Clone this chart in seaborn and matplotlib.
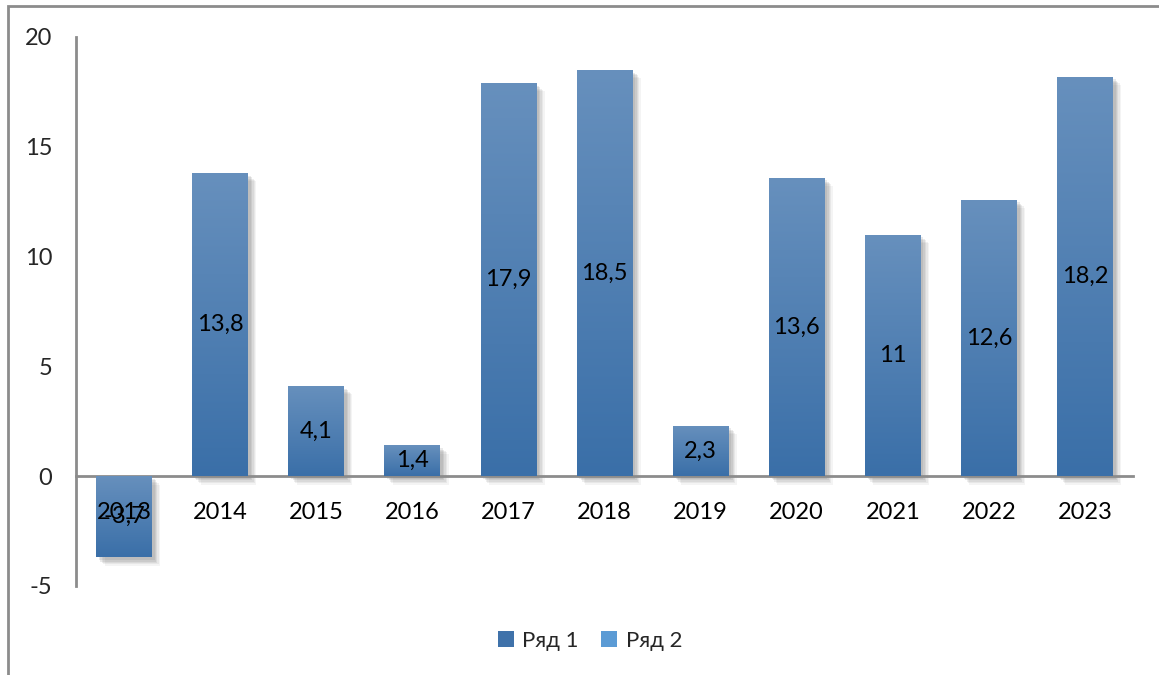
import numpy as np
import pandas as pd
import matplotlib
matplotlib.use("Agg")
import matplotlib.pyplot as plt
import matplotlib.patheffects as pe
from matplotlib.colors import LinearSegmentedColormap
from matplotlib.patches import Rectangle, Patch
import seaborn as sns

years = ["2013", "2014", "2015", "2016", "2017", "2018", "2019", "2020", "2021", "2022", "2023"]
values = [-3.7, 13.8, 4.1, 1.4, 17.9, 18.5, 2.3, 13.6, 11, 12.6, 18.2]
labels = ["-3,7", "13,8", "4,1", "1,4", "17,9", "18,5", "2,3", "13,6", "11", "12,6", "18,2"]
series_names = ["Ряд 1", "Ряд 2"]
yticks = [-5, 0, 5, 10, 15, 20]

sns.set_theme(style="white")
plt.rcParams["font.family"] = ["Lato", "DejaVu Sans"]

fig = plt.figure(figsize=(11.59, 6.75), dpi=100)
ax = fig.add_axes([76 / 1159, 1 - 586 / 675, (1133 - 76) / 1159, (586 - 37) / 675])

df = pd.DataFrame({"year": years, "value": values})
sns.barplot(data=df, x="year", y="value", ax=ax, color="#3A70A8", width=0.58,
            saturation=1)

cmap = LinearSegmentedColormap.from_list("g", ["#3A6FA8", "#6790BD"])
grad = np.linspace(0, 1, 256).reshape(-1, 1)
shadow = [pe.SimplePatchShadow(offset=(o, -o), shadow_rgbFace="#777777", alpha=a)
          for o, a in [(6, 0.08), (5, 0.1), (4, 0.12), (3, 0.15), (2, 0.15)]]
for p in ax.patches:
    x0, y0 = p.get_x(), p.get_y()
    w, h = p.get_width(), p.get_height()
    ylo, yhi = min(y0, y0 + h), max(y0, y0 + h)
    p.set_edgecolor("none")
    p.set_path_effects(shadow + [pe.Normal()])
    im = ax.imshow(grad, extent=[x0, x0 + w, ylo, yhi], origin="lower", cmap=cmap,
                   aspect="auto", zorder=3, interpolation="bilinear")
    im.set_clip_path(p)

for i, (v, lab) in enumerate(zip(values, labels)):
    ax.text(i, v / 2, lab, ha="center", va="center", fontsize=17, color="black", zorder=5)

for i, yr in enumerate(years):
    ax.annotate(yr, xy=(i, 0), xytext=(0, -26), textcoords="offset points",
                ha="center", va="center", fontsize=17, color="black", zorder=6)

ax.set_xlim(-0.5, len(years) - 0.5)
ax.set_ylim(-5, 20)
ax.set_xticks(range(len(years)))
ax.set_xticklabels([])
ax.set_yticks(yticks)
ax.set_yticklabels([str(t) for t in yticks], fontsize=17)
ax.tick_params(axis="y", length=0, pad=17)
ax.tick_params(axis="x", length=0)
ax.set_xlabel("")
ax.set_ylabel("")

for s in ["top", "right"]:
    ax.spines[s].set_visible(False)
ax.spines["left"].set_color("#8c8c8c")
ax.spines["left"].set_linewidth(2)
ax.spines["bottom"].set_position(("data", 0))
ax.spines["bottom"].set_color("#8c8c8c")
ax.spines["bottom"].set_linewidth(2)
ax.spines["bottom"].set_zorder(2)

handles = [Patch(facecolor="#3F72AA", edgecolor="none"),
           Patch(facecolor="#5B9BD5", edgecolor="none")]
fig.legend(handles, series_names, loc="center", bbox_to_anchor=(590 / 1159, 1 - 641 / 675),
           ncol=2, frameon=False, fontsize=16, handlelength=0.7, handleheight=0.7,
           handletextpad=0.4, columnspacing=1.0)

fig.patches.append(Rectangle((8 / 1159, -0.1), 1.2, 1.1 - 6 / 675, transform=fig.transFigure,
                             fill=False, edgecolor="#8c8c8c", linewidth=2))

fig.savefig("out.png", dpi=100)
